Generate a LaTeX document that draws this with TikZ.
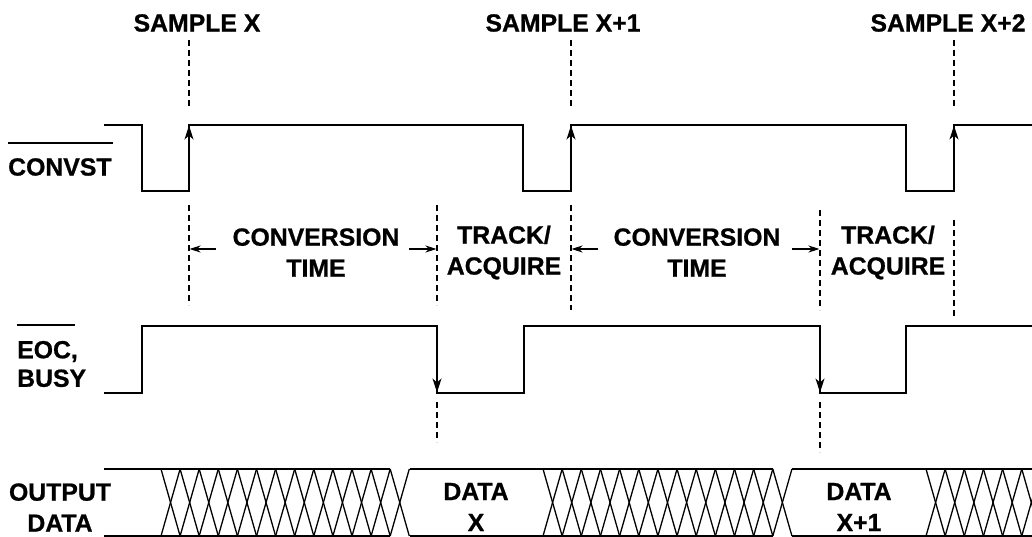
\documentclass[tikz,border=0pt]{standalone}
\usepackage{fontspec}
\setmainfont{Liberation Sans}[BoldFeatures={FakeBold=0.8}]
\usetikzlibrary{arrows.meta}
\begin{document}
\begin{tikzpicture}[x=1pt,y=-1pt,
  sig/.style={line width=1.6pt, line join=miter},
  guide/.style={line width=1.3pt, dash pattern=on 6pt off 4pt},
  hatchline/.style={line width=1.3pt},
  edgearrow/.style={line width=1.6pt,-{Stealth[length=14pt,width=9pt,inset=4pt]}},
  spanarrow/.style={line width=1.2pt,-{Stealth[length=11pt,width=7pt,inset=3.5pt]}},
  lbl/.style={font=\fontsize{24.8}{31}\selectfont\bfseries, inner sep=0pt, align=center}
]
\useasboundingbox (0,0) rectangle (1032,537);

% labels
\node[lbl] (sx)  at (197,23) {SAMPLE X};
\node[lbl] (sx1) at (563,23) {SAMPLE X+1};
\node[lbl] (sx2) at (948,23) {SAMPLE X+2};
\node[lbl,anchor=west] (cv) at (8,167) {CONVST};
\node[lbl,anchor=west,align=left,font=\fontsize{24.8}{28.5}\selectfont\bfseries] (eoc) at (17,364) {EOC,\\BUSY};
\node[lbl] (od)  at (60,507.5) {OUTPUT\\DATA};
\node[lbl] (ct1) at (316,252.5) {CONVERSION\\TIME};
\node[lbl] (ta1) at (504,252.5) {TRACK/\\ACQUIRE};
\node[lbl] (ct2) at (697,252.5) {CONVERSION\\TIME};
\node[lbl] (ta2) at (888,252.5) {TRACK/\\ACQUIRE};
\node[lbl] (dx)  at (476,507) {DATA\\X};
\node[lbl] (dx1) at (859,507) {DATA\\X+1};

% overbars
\draw[line width=1.5pt] (8,143) -- (113,143);
\draw[line width=1.5pt] (17,325) -- (75,325);

% guides
\foreach \gx in {189,571,954} \draw[guide] (\gx,40) -- (\gx,106);
\draw[guide] (189,205) -- (189,305);
\draw[guide] (437,205) -- (437,305);
\draw[guide] (571,205) -- (571,310);
\draw[guide] (820,210) -- (820,310);
\draw[guide] (954,220) -- (954,316);
\draw[guide] (437,402) -- (437,442);
\draw[guide] (820,402) -- (820,452);

% span arrows
\draw[spanarrow] (216,249) -- (189.5,249);
\draw[spanarrow] (409,249) -- (436.5,249);
\draw[spanarrow] (598,249) -- (571.5,249);
\draw[spanarrow] (792,249) -- (819.5,249);

% CONVST
\draw[sig] (104,125) -- (142,125) -- (142,191) -- (189,191) -- (189,125) -- (523,125) -- (523,191) -- (571,191) -- (571,125) -- (906,125) -- (906,191) -- (954,191) -- (954,125) -- (1032,125);
\foreach \ex in {189,571,954} \draw[edgearrow] (\ex,160) -- (\ex,125.5);

% EOC / BUSY
\draw[sig] (104,393) -- (142,393) -- (142,326) -- (437,326) -- (437,393) -- (524,393) -- (524,326) -- (820,326) -- (820,393) -- (906,393) -- (906,326) -- (1032,326);
\foreach \ex in {437,820} \draw[edgearrow] (\ex,360) -- (\ex,392.5);

% OUTPUT DATA bus
\draw[sig] (104,469) -- (390.4,469) (409.5,469) -- (773,469) (792,469) -- (1032,469);
\draw[sig] (104,536) -- (390.4,536) (409.5,536) -- (773,536) (792,536) -- (1032,536);
\begin{scope}
\clip (0,0) rectangle (1032,537);
\foreach \s/\w/\n in {161/19.1/12, 543/19.15/12, 926/19.15/6} {
  \foreach \i in {0,...,\n} {
    \pgfmathsetmacro{\xa}{\s+\i*\w}
    \pgfmathsetmacro{\xb}{\s+(\i+1)*\w}
    \draw[hatchline] (\xa,469) -- (\xb,536);
    \draw[hatchline] (\xb,469) -- (\xa,536);
  }
}
\end{scope}
\end{tikzpicture}
\end{document}
